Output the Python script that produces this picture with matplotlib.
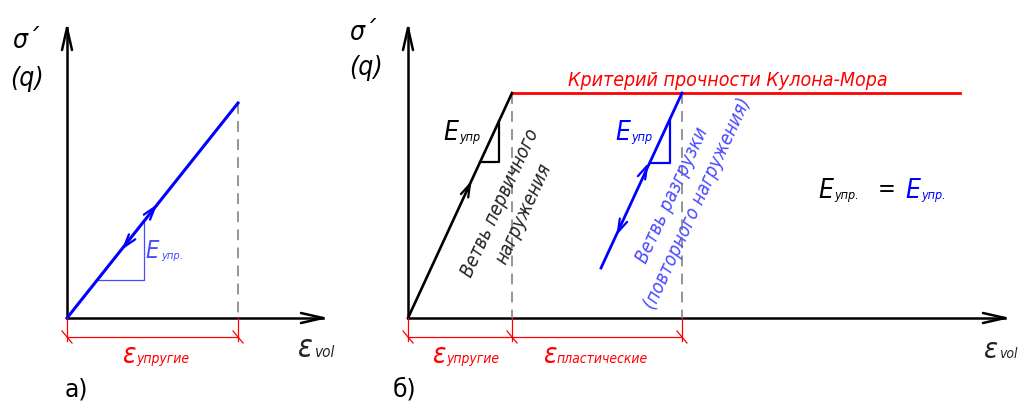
import numpy as np
import matplotlib.pyplot as plt

# координаты схемы (пиксели исходного рисунка, ось y вниз)
# панель а)
a_origin = (67, 318)
a_y_top = 28
a_x_end = 323
a_line_x = [67, 238]
a_line_y = [318, 103]
a_tri_x = [97, 144, 144]
a_tri_y = [280, 280, 221]
a_dim_y = 337

# панель б)
b_origin = (408, 318)
b_y_top = 28
b_x_end = 1005
b_load_x = [408, 512]
b_load_y = [318, 93]
b_mc_x = [512, 960]
b_mc_y = [93, 93]
b_unload_x = [682, 601]
b_unload_y = [93, 268]
b_tri_black_x = [480, 499, 499]
b_tri_black_y = [162, 162, 121]
b_tri_blue_x = [650, 670, 670]
b_tri_blue_y = [163, 163, 119]
b_dashed_x = [512, 682]
b_dim_ticks = [408, 512, 682]
b_dim_y = 337

BLUE = '#0000ff'
LBLUE = '#4a4aff'
RED = '#ff0000'
GRAY = '#8c8c8c'
FONT = dict(family='DejaVu Sans', style='italic', fontstretch='condensed')

fig = plt.figure(figsize=(10.19, 4.01), dpi=100)
ax = fig.add_axes([0, 0, 1, 1])
ax.set_xlim(0, 1019)
ax.set_ylim(401, 0)
ax.axis('off')


def head(tip, vec, length, half, color, lw):
    # открытая стрелка (два штриха)
    v = np.array(vec, float)
    v /= np.hypot(*v)
    n = np.array([-v[1], v[0]])
    t = np.array(tip, float)
    for s in (1, -1):
        p = t - v * length + n * half * s
        ax.plot([t[0], p[0]], [t[1], p[1]], color=color, lw=lw, solid_capstyle='round')


def axis_arrows(origin, ytop, xend):
    ox, oy = origin
    ax.plot([ox, ox], [oy, ytop], color='black', lw=1.8)
    ax.plot([ox, xend], [oy, oy], color='black', lw=1.8)
    head((ox, ytop), (0, -1), 22, 5, 'black', 1.8)
    head((xend, oy), (1, 0), 22, 5, 'black', 1.8)


def e_label(x, y, sub, color, size=19, subsize=9):
    ax.text(x, y, 'E', color=color, fontsize=size, ha='left', va='baseline', **FONT)
    ax.text(x + 16, y + 1, sub, color=color, fontsize=subsize, ha='left', va='baseline', **FONT)


def eps_label(x, y, sub, color, size=22, subsize=10, dx=17):
    ax.text(x, y, 'ε', color=color, fontsize=size, ha='left', va='baseline', **FONT)
    ax.text(x + dx, y, sub, color=color, fontsize=subsize, ha='left', va='baseline', **FONT)


def dimension(ticks, y, top):
    ax.plot([ticks[0], ticks[-1]], [y, y], color=RED, lw=0.9)
    for t in ticks:
        ax.plot([t, t], [top, y + 4], color=RED, lw=0.9)
        ax.plot([t - 5, t + 5], [y - 6, y + 6], color=RED, lw=0.9)


# ---------- панель а) ----------
axis_arrows(a_origin, a_y_top, a_x_end)
ax.plot([a_line_x[1], a_line_x[1]], [a_line_y[1], a_origin[1]], color=GRAY, lw=1.3, ls=(0, (6, 4)))
ax.plot(a_tri_x, a_tri_y, color=LBLUE, lw=0.9)
ax.plot(a_line_x, a_line_y, color=BLUE, lw=2.2)
va = (a_line_x[1] - a_line_x[0], a_line_y[1] - a_line_y[0])
head((155, 207), va, 13, 4, BLUE, 1.6)
head((124, 247), (-va[0], -va[1]), 13, 4, BLUE, 1.6)
e_label(145, 258, 'упр.', LBLUE, size=17, subsize=8)
dimension([a_line_x[0], a_line_x[1]], a_dim_y, a_origin[1])
eps_label(122, 363, 'упругие', RED, size=20, subsize=10, dx=14)
eps_label(298, 357, 'vol', '#222222', size=22, subsize=11, dx=16)
ax.text(12, 48, 'σ´', fontsize=19, **FONT)
ax.text(10, 86, '(q)', fontsize=19, **FONT)
ax.text(65, 397, 'а)', fontsize=17, family='DejaVu Sans')

# ---------- панель б) ----------
axis_arrows(b_origin, b_y_top, b_x_end)
for xd in b_dashed_x:
    ax.plot([xd, xd], [b_mc_y[0], b_origin[1]], color=GRAY, lw=1.3, ls=(0, (6, 4)))
ax.plot(b_mc_x, b_mc_y, color=RED, lw=2.0)
ax.plot(b_load_x, b_load_y, color='black', lw=1.9)
ax.plot(b_tri_black_x, b_tri_black_y, color='black', lw=1.6)
ax.plot(b_unload_x, b_unload_y, color=BLUE, lw=2.0)
ax.plot(b_tri_blue_x, b_tri_blue_y, color=BLUE, lw=1.6)
vb = (b_load_x[1] - b_load_x[0], b_load_y[1] - b_load_y[0])
head((470, 184), vb, 13, 4, 'black', 1.6)
head((647, 166), vb, 13, 4, BLUE, 1.6)
head((618, 232), (-vb[0], -vb[1]), 13, 4, BLUE, 1.6)
dimension(b_dim_ticks, b_dim_y, b_origin[1])

ang = np.degrees(np.arctan2(-vb[1], vb[0]))
ax.text(500, 203, 'Ветвь первичного', rotation=ang, rotation_mode='anchor',
        ha='center', va='center', fontsize=13.5, color='#222222', **FONT)
ax.text(524, 214, 'нагружения', rotation=ang, rotation_mode='anchor',
        ha='center', va='center', fontsize=13.5, color='#222222', **FONT)
ax.text(672, 195, 'Ветвь разгрузки', rotation=ang, rotation_mode='anchor',
        ha='center', va='center', fontsize=13.5, color=LBLUE, **FONT)
ax.text(698, 203, '(повторного нагружения)', rotation=ang, rotation_mode='anchor',
        ha='center', va='center', fontsize=13.5, color=LBLUE, **FONT)

ax.text(728, 86, 'Критерий прочности Кулона-Мора', ha='center', va='baseline',
        fontsize=14, color=RED, **FONT)

e_label(443, 140, 'упр', 'black', size=19, subsize=9)
e_label(615, 140, 'упр', BLUE, size=19, subsize=9)
e_label(818, 198, 'упр.', 'black', size=19, subsize=9)
ax.text(878, 196, '=', fontsize=17, ha='left', va='baseline', **FONT)
e_label(905, 198, 'упр.', BLUE, size=19, subsize=9)

eps_label(432, 363, 'упругие', RED, size=20, subsize=10, dx=14)
eps_label(543, 363, 'пластические', RED, size=20, subsize=10, dx=14)
eps_label(984, 358, 'vol', '#222222', size=21, subsize=10, dx=15)
ax.text(349, 40, 'σ´', fontsize=19, **FONT)
ax.text(349, 75, '(q)', fontsize=19, **FONT)
ax.text(393, 397, 'б)', fontsize=17, family='DejaVu Sans')

fig.savefig('out.png', dpi=100)
